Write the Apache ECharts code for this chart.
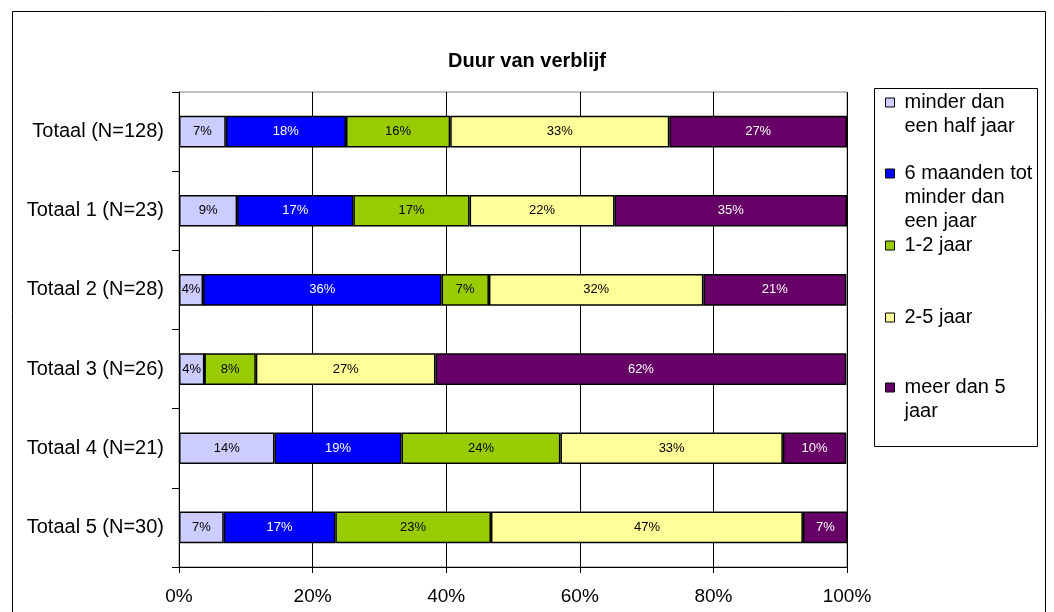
<!DOCTYPE html>
<html>
<head>
<meta charset="utf-8">
<title>Duur van verblijf</title>
<script src="https://cdn.jsdelivr.net/npm/echarts@6/dist/echarts.min.js"></script>
<style>
  html, body { margin: 0; padding: 0; background: #fff; }
  #chart { width: 1054px; height: 612px; }
</style>
</head>
<body>
<div id="chart"></div>
<script>
// categorieen (van boven naar beneden)
const groepen = ['Totaal (N=128)', 'Totaal 1 (N=23)', 'Totaal 2 (N=28)', 'Totaal 3 (N=26)', 'Totaal 4 (N=21)', 'Totaal 5 (N=30)']
const xTicks = [0, 20, 40, 60, 80, 100]

// percentages per duurklasse
const minderHalfJaar = [7.0, 8.7, 3.6, 3.8, 14.3, 6.7]
const zesMaanden = [18.0, 17.4, 35.7, 0, 19.0, 16.7]
const eenTweeJaar = [15.6, 17.4, 7.1, 7.7, 23.8, 23.3]
const tweeVijfJaar = [32.8, 21.7, 32.1, 26.9, 33.3, 46.7]
const meerVijfJaar = [26.6, 34.8, 21.4, 61.5, 9.5, 6.7]

const reeksen = [
  { name: 'minder dan een half jaar', legend: 'minder dan\neen half jaar', data: minderHalfJaar, color: '#CCCCFF', text: '#000' },
  { name: '6 maanden tot minder dan een jaar', legend: '6 maanden tot\nminder dan\neen jaar', data: zesMaanden, color: '#0000FF', text: '#fff' },
  { name: '1-2 jaar', legend: '1-2 jaar', data: eenTweeJaar, color: '#99CC00', text: '#000' },
  { name: '2-5 jaar', legend: '2-5 jaar', data: tweeVijfJaar, color: '#FFFF99', text: '#000' },
  { name: 'meer dan 5 jaar', legend: 'meer dan 5\njaar', data: meerVijfJaar, color: '#660066', text: '#fff' },
]

const font = 'Liberation Sans, Arial, sans-serif'
const lineH = 24
const legendFirstLine = [102, 173, 245, 317, 387]

let myChart = echarts.init(document.getElementById('chart'))

// een legend per item; het icoon is zo hoog als de tekst, met het blokje bij de eerste regel
let legends = reeksen.map((r, i) => {
  let n = r.legend.split('\n').length
  let h = lineH * n
  return {
    data: [r.name],
    orient: 'vertical',
    left: 885,
    top: legendFirstLine[i] - lineH / 2,
    padding: 0,
    itemWidth: 9,
    itemHeight: h,
    selectedMode: false,
    icon: 'path://M0,7.5L9,7.5L9,16.5L0,16.5Z M0,0 M9,' + h,
    formatter: () => r.legend,
    itemStyle: { borderColor: '#000', borderWidth: 1 },
    textStyle: {
      fontFamily: font,
      fontSize: 20,
      color: '#000',
      lineHeight: lineH,
      padding: [0, 0, 0, 5],
    },
  }
})

let options = {
  animation: false,
  backgroundColor: '#fff',
  title: {
    text: 'Duur van verblijf',
    left: 'center',
    top: 46,
    textStyle: { fontFamily: font, fontSize: 20, fontWeight: 'bold', color: '#000' },
  },
  legend: legends,
  graphic: [
    {
      type: 'rect',
      shape: { x: 12.5, y: 11.5, width: 1033, height: 620 },
      style: { fill: 'none', stroke: '#000', lineWidth: 1 },
      silent: true,
    },
    {
      type: 'rect',
      shape: { x: 874.5, y: 88.5, width: 163, height: 358 },
      style: { fill: 'none', stroke: '#000', lineWidth: 1 },
      silent: true,
    },
  ],
  grid: {
    left: 179,
    right: 207,
    top: 92,
    bottom: 45,
    show: true,
    borderColor: '#808080',
    borderWidth: 1,
  },
  xAxis: {
    type: 'value',
    min: xTicks[0],
    max: xTicks[xTicks.length - 1],
    interval: 20,
    axisLine: { show: true, lineStyle: { color: '#000', width: 1 } },
    axisTick: { show: true, length: 6, lineStyle: { color: '#000' } },
    axisLabel: { formatter: '{value}%', fontFamily: font, fontSize: 19, color: '#000', margin: 20 },
    splitLine: { show: true, lineStyle: { color: '#000', width: 1 } },
  },
  yAxis: {
    type: 'category',
    inverse: true,
    data: groepen,
    axisLine: { show: true, lineStyle: { color: '#000', width: 1 } },
    axisTick: { show: true, length: 7, lineStyle: { color: '#000' } },
    axisLabel: { fontFamily: font, fontSize: 20, color: '#000', margin: 15 },
    splitLine: { show: false },
  },
  series: reeksen.map((r) => ({
    name: r.name,
    type: 'bar',
    stack: 'totaal',
    barWidth: '40%',
    data: r.data,
    itemStyle: { color: r.color, borderColor: '#000', borderWidth: 1.5 },
    label: {
      show: true,
      position: 'inside',
      fontFamily: font,
      fontSize: 13,
      color: r.text,
      formatter: (p) => (p.value > 0 ? Math.round(p.value) + '%' : ''),
    },
  })),
}

myChart.setOption(options)
</script>
</body>
</html>
